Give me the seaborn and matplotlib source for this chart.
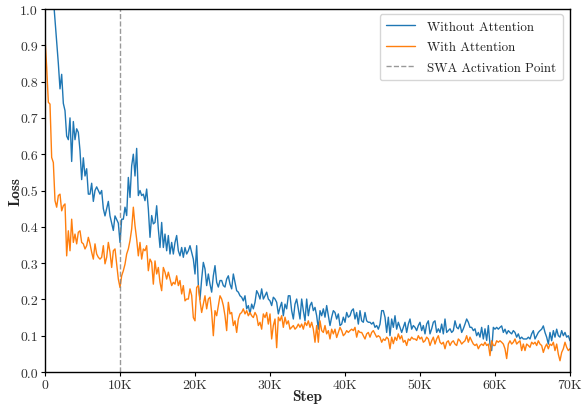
import numpy as np
import pandas as pd
import matplotlib
matplotlib.use("Agg")
import matplotlib.pyplot as plt
import seaborn as sns
from matplotlib.ticker import FuncFormatter, MultipleLocator

# ---- data (316 samples from 0 to 70K steps) ----
loss_without = [
    # 0 - 10K
    1.32, 1.26, 1.20, 1.14, 1.08, 1.03, 0.97, 0.91, 0.85, 0.78, 0.82, 0.74, 0.72, 0.65, 0.64,
    0.70, 0.58, 0.69, 0.64, 0.67, 0.66, 0.61, 0.53, 0.59, 0.54, 0.56, 0.49, 0.49, 0.52, 0.47,
    0.50, 0.51, 0.50, 0.49, 0.50, 0.45, 0.43, 0.45, 0.47, 0.43, 0.41, 0.39, 0.43, 0.42, 0.41,
    # 10K - 20K
    0.357, 0.421, 0.421, 0.454, 0.431, 0.536, 0.481, 0.568, 0.600, 0.540, 0.616, 0.486, 0.500, 0.486, 0.490,
    0.472, 0.504, 0.449, 0.371, 0.431, 0.408, 0.412, 0.458, 0.394, 0.343, 0.412, 0.343, 0.380, 0.334, 0.376,
    0.325, 0.357, 0.325, 0.357, 0.376, 0.334, 0.320, 0.343, 0.316, 0.343, 0.325, 0.334, 0.348, 0.330, 0.311,
    # 20K - 30K
    0.270, 0.348, 0.240, 0.200, 0.256, 0.302, 0.284, 0.238, 0.270, 0.242, 0.220, 0.265, 0.293, 0.247, 0.234,
    0.252, 0.252, 0.238, 0.234, 0.256, 0.265, 0.242, 0.229, 0.270, 0.247, 0.224, 0.220, 0.210, 0.206, 0.196,
    0.210, 0.174, 0.183, 0.160, 0.187, 0.174, 0.192, 0.224, 0.215, 0.201, 0.229, 0.201, 0.210, 0.220, 0.201,
    # 30K - 40K
    0.196, 0.183, 0.206, 0.201, 0.192, 0.160, 0.178, 0.192, 0.155, 0.187, 0.174, 0.210, 0.210, 0.169, 0.146,
    0.187, 0.201, 0.174, 0.146, 0.201, 0.169, 0.141, 0.201, 0.155, 0.183, 0.192, 0.169, 0.178, 0.155, 0.118,
    0.169, 0.155, 0.174, 0.151, 0.183, 0.155, 0.128, 0.151, 0.169, 0.164, 0.146, 0.160, 0.128, 0.132, 0.151,
    # 40K - 50K
    0.137, 0.164, 0.151, 0.155, 0.169, 0.174, 0.146, 0.164, 0.132, 0.169, 0.141, 0.137, 0.164, 0.141, 0.137,
    0.137, 0.132, 0.137, 0.123, 0.128, 0.118, 0.132, 0.169, 0.169, 0.151, 0.109, 0.151, 0.100, 0.146, 0.123,
    0.155, 0.118, 0.137, 0.123, 0.109, 0.123, 0.137, 0.109, 0.132, 0.146, 0.118, 0.128, 0.123, 0.114, 0.128,
    # 50K - 60K
    0.137, 0.114, 0.128, 0.105, 0.132, 0.141, 0.105, 0.119, 0.137, 0.141, 0.109, 0.119, 0.109, 0.132, 0.105,
    0.146, 0.109, 0.114, 0.119, 0.109, 0.114, 0.141, 0.123, 0.119, 0.132, 0.109, 0.119, 0.132, 0.146, 0.137,
    0.123, 0.123, 0.114, 0.119, 0.100, 0.109, 0.096, 0.123, 0.091, 0.119, 0.087, 0.128, 0.077, 0.059, 0.123,
    # 60K - 70K
    0.118, 0.123, 0.118, 0.123, 0.127, 0.109, 0.118, 0.105, 0.114, 0.109, 0.105, 0.114, 0.109, 0.096, 0.105,
    0.091, 0.096, 0.091, 0.091, 0.091, 0.096, 0.091, 0.105, 0.114, 0.091, 0.100, 0.109, 0.114, 0.118, 0.127,
    0.109, 0.096, 0.077, 0.109, 0.086, 0.114, 0.096, 0.118, 0.100, 0.096, 0.114, 0.100, 0.109, 0.096, 0.100,
    0.086,
]

loss_with = [
    # 0 - 10K
    0.920, 0.840, 0.743, 0.738, 0.591, 0.577, 0.472, 0.454, 0.486, 0.490, 0.444, 0.458, 0.463, 0.320, 0.389,
    0.334, 0.421, 0.357, 0.380, 0.353, 0.385, 0.389, 0.357, 0.353, 0.339, 0.348, 0.371, 0.353, 0.330, 0.311,
    0.353, 0.325, 0.316, 0.311, 0.316, 0.348, 0.298, 0.316, 0.357, 0.330, 0.288, 0.334, 0.339, 0.298, 0.256,
    # 10K - 20K
    0.233, 0.265, 0.279, 0.297, 0.325, 0.339, 0.362, 0.394, 0.454, 0.403, 0.366, 0.320, 0.357, 0.311, 0.339,
    0.334, 0.348, 0.279, 0.311, 0.302, 0.242, 0.306, 0.270, 0.288, 0.247, 0.224, 0.288, 0.275, 0.256, 0.275,
    0.256, 0.238, 0.247, 0.242, 0.265, 0.238, 0.252, 0.215, 0.238, 0.196, 0.201, 0.201, 0.229, 0.211, 0.150,
    # 20K - 30K
    0.141, 0.233, 0.238, 0.196, 0.164, 0.187, 0.210, 0.174, 0.201, 0.206, 0.164, 0.100, 0.169, 0.155, 0.183,
    0.210, 0.201, 0.183, 0.155, 0.114, 0.192, 0.160, 0.164, 0.128, 0.141, 0.109, 0.146, 0.160, 0.164, 0.174,
    0.160, 0.169, 0.155, 0.164, 0.155, 0.150, 0.164, 0.155, 0.128, 0.137, 0.118, 0.160, 0.150, 0.164, 0.132,
    # 30K - 40K
    0.160, 0.091, 0.128, 0.146, 0.067, 0.151, 0.141, 0.155, 0.123, 0.151, 0.132, 0.141, 0.118, 0.123, 0.128,
    0.118, 0.123, 0.132, 0.123, 0.132, 0.118, 0.137, 0.128, 0.141, 0.123, 0.137, 0.118, 0.082, 0.128, 0.082,
    0.141, 0.114, 0.109, 0.128, 0.105, 0.114, 0.091, 0.118, 0.105, 0.118, 0.095, 0.109, 0.123, 0.114, 0.100,
    # 40K - 50K
    0.105, 0.114, 0.109, 0.114, 0.118, 0.114, 0.123, 0.096, 0.114, 0.109, 0.109, 0.100, 0.091, 0.105, 0.109,
    0.096, 0.109, 0.114, 0.105, 0.096, 0.100, 0.096, 0.082, 0.091, 0.087, 0.096, 0.091, 0.064, 0.096, 0.078,
    0.096, 0.087, 0.105, 0.091, 0.100, 0.082, 0.087, 0.073, 0.091, 0.087, 0.096, 0.091, 0.091, 0.087, 0.100,
    # 50K - 60K
    0.091, 0.096, 0.082, 0.086, 0.096, 0.091, 0.073, 0.086, 0.096, 0.077, 0.091, 0.100, 0.082, 0.077, 0.082,
    0.064, 0.082, 0.086, 0.073, 0.082, 0.086, 0.077, 0.073, 0.091, 0.086, 0.077, 0.082, 0.086, 0.100, 0.082,
    0.096, 0.086, 0.077, 0.073, 0.077, 0.064, 0.073, 0.077, 0.073, 0.082, 0.073, 0.077, 0.045, 0.086, 0.073,
    # 60K - 70K
    0.073, 0.086, 0.082, 0.086, 0.082, 0.077, 0.064, 0.037, 0.077, 0.086, 0.077, 0.082, 0.091, 0.077, 0.082,
    0.086, 0.059, 0.077, 0.059, 0.077, 0.073, 0.068, 0.082, 0.077, 0.082, 0.073, 0.086, 0.077, 0.073, 0.054,
    0.068, 0.077, 0.064, 0.077, 0.073, 0.082, 0.059, 0.077, 0.049, 0.031, 0.054, 0.064, 0.082, 0.068, 0.059,
    0.064,
]

steps = np.linspace(0, 70000, len(loss_without))
swa_step = 10000
x_ticks = [0, 10000, 20000, 30000, 40000, 50000, 60000, 70000]
x_tick_labels = ["0", "10K", "20K", "30K", "40K", "50K", "60K", "70K"]
series_names = ["Without Attention", "With Attention"]

df = pd.DataFrame({
    "Step": np.concatenate([steps, steps]),
    "Loss": np.concatenate([loss_without, loss_with]),
    "Series": [series_names[0]] * len(steps) + [series_names[1]] * len(steps),
})

# ---- style ----
sns.set_style("ticks")
plt.rcParams["font.family"] = ["cmr10", "DejaVu Serif"]
plt.rcParams["mathtext.fontset"] = "cm"
plt.rcParams["axes.formatter.use_mathtext"] = True
plt.rcParams["axes.unicode_minus"] = False

fig = plt.figure(figsize=(5.82, 4.06), dpi=100)
ax = fig.add_axes([45 / 582, 1 - 373 / 406, 525 / 582, 363 / 406])

sns.lineplot(data=df, x="Step", y="Loss", hue="Series",
             palette=["#1f77b4", "#ff7f0e"], linewidth=1.0, ax=ax,
             estimator=None, sort=False)
ax.axvline(swa_step, color="gray", linestyle="--", linewidth=1.0, alpha=0.8,
           label="SWA Activation Point")

ax.set_xlim(0, 70000)
ax.set_ylim(0, 1.0)
ax.set_xticks(x_ticks)
ax.set_xticklabels(x_tick_labels)
ax.yaxis.set_major_locator(MultipleLocator(0.1))
ax.yaxis.set_major_formatter(FuncFormatter(lambda v, p: f"{v:.1f}"))
ax.tick_params(axis="both", labelsize=10, direction="out", length=3, width=0.8,
               pad=2, colors="black", labelcolor="#333333")
for s in ax.spines.values():
    s.set_visible(True)
    s.set_color("black")
    s.set_linewidth(1.0)

ax.set_xlabel("Step", fontfamily="cmb10", fontsize=11)
ax.set_ylabel("Loss", fontfamily="cmb10", fontsize=11)
ax.xaxis.set_label_coords(0.5, -17 / 363)
ax.yaxis.set_label_coords(-23 / 525, 0.5)

handles, labels = ax.get_legend_handles_labels()
leg = ax.legend(handles, labels, loc="upper right", fontsize=9.3, frameon=True,
                fancybox=True, framealpha=0.8, edgecolor="#cccccc",
                borderpad=0.5, labelspacing=0.65, handlelength=2.2,
                handletextpad=1.0, borderaxespad=0.0,
                bbox_to_anchor=((563 - 45) / 525, (373 - 15) / 363))
for t in leg.get_texts():
    t.set_color("#222222")

fig.savefig("out.png", dpi=100)
